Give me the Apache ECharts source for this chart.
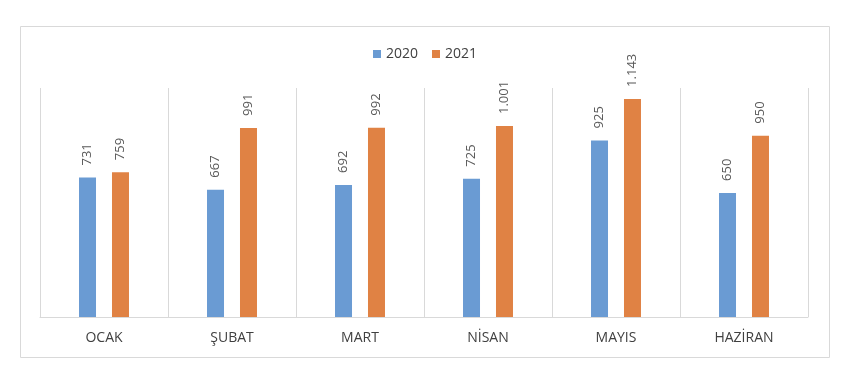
<!DOCTYPE html>
<html><head><meta charset="utf-8">
<script src="https://cdn.jsdelivr.net/npm/echarts@6/dist/echarts.min.js"></script>
<style>html,body{margin:0;padding:0;background:#fff}#c{width:850px;height:384px}</style>
</head><body><div id="c"></div>
<script>
const categories = ['OCAK', 'ŞUBAT', 'MART', 'NİSAN', 'MAYIS', 'HAZİRAN'];
const seriesNames = ['2020', '2021'];
const values2020 = [731, 667, 692, 725, 925, 650];
const values2021 = [759, 991, 992, 1001, 1143, 950];

const fmt = v => String(v).replace(/\B(?=(\d{3})+(?!\d))/g, '.');
const font = '"Open Sans", "Liberation Sans", sans-serif';
const chart = echarts.init(document.getElementById('c'), null, {renderer: 'canvas'});
const labelCfg = {
  show: true, position: 'top', rotate: 90, align: 'left', verticalAlign: 'middle',
  distance: 12, color: '#595959', fontSize: 13, fontFamily: font,
  formatter: p => fmt(p.value)
};
chart.setOption({
  animation: false,
  graphic: [{type: 'rect', shape: {x: 20.5, y: 26.5, width: 809, height: 331},
    style: {fill: 'none', stroke: '#d9d9d9', lineWidth: 1}, z: -1}],
  legend: {top: 42, left: 'center', itemWidth: 8, itemHeight: 8, itemGap: 14,
    icon: 'rect', textStyle: {color: '#404040', fontSize: 14, fontFamily: font},
    data: seriesNames},
  grid: {left: 40, right: 42, top: 88, bottom: 67},
  xAxis: {type: 'category', data: categories,
    axisLine: {lineStyle: {color: '#d9d9d9'}}, axisTick: {show: false},
    splitLine: {show: true, lineStyle: {color: '#d9d9d9'}},
    axisLabel: {color: '#404040', fontSize: 14, fontFamily: font, margin: 14}},
  yAxis: {type: 'value', min: 0, max: 1200, show: false, splitLine: {show: false}},
  series: [
    {name: seriesNames[0], type: 'bar', data: values2020, barWidth: 17, barGap: '94%',
      itemStyle: {color: '#6A9BD3'}, label: labelCfg},
    {name: seriesNames[1], type: 'bar', data: values2021, barWidth: 17,
      itemStyle: {color: '#E08244'}, label: labelCfg}
  ]
});
</script></body></html>
